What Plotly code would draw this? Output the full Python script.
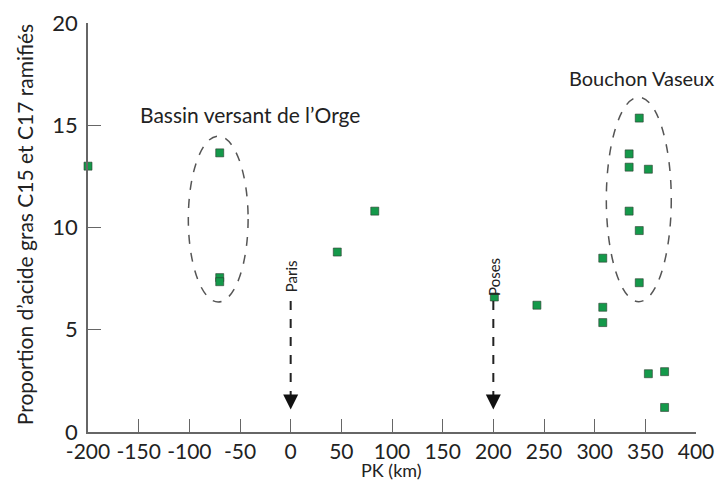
import plotly.graph_objects as go

# Data
pk_km = [-200, -70, -70, -70, 46, 83, 201, 243, 308, 308, 308,
         334, 334, 334, 344, 344, 344, 353, 353, 369, 369]
proportion = [13.0, 13.65, 7.55, 7.35, 8.8, 10.8, 6.6, 6.2, 8.5, 6.1, 5.35,
              13.6, 12.95, 10.8, 15.35, 9.85, 7.3, 12.85, 2.85, 2.95, 1.2]

x_ticks = [-200, -150, -100, -50, 0, 50, 100, 150, 200, 250, 300, 350, 400]
y_ticks = [0, 5, 10, 15, 20]

markers_pk = [0, 200]
markers_name = ["Paris", "Poses"]

FONT = "Lato"
TXT = "#222"

fig = go.Figure()
fig.add_trace(go.Scatter(
    x=pk_km, y=proportion, mode="markers",
    marker=dict(symbol="square", size=8, color="#14994a",
                line=dict(color="#2b3a2f", width=0.6)),
    cliponaxis=False, showlegend=False, hoverinfo="x+y",
))

# Dashed ellipses
fig.add_shape(type="circle", xref="x", yref="y", x0=-101, x1=-42, y0=6.36, y1=14.47,
              line=dict(color="#555", width=1.5, dash="dash"))
fig.add_shape(type="circle", xref="x", yref="y", x0=311.5, x1=375.6, y0=6.37, y1=16.37,
              line=dict(color="#555", width=1.5, dash="dash"))

fig.add_annotation(x=-40, y=15.55, xref="x", yref="y", text="Bassin versant de l’Orge",
                   showarrow=False, font=dict(family=FONT, size=21, color=TXT),
                   xanchor="center", yanchor="middle")
fig.add_annotation(x=346, y=17.3, xref="x", yref="y", text="Bouchon Vaseux",
                   showarrow=False, font=dict(family=FONT, size=20, color=TXT),
                   xanchor="center", yanchor="middle")

for pk, name in zip(markers_pk, markers_name):
    fig.add_shape(type="line", xref="x", yref="y", x0=pk, x1=pk, y0=6.4, y1=1.6,
                  line=dict(color="#222", width=2, dash="dash"))
    fig.add_annotation(x=pk, y=1.1, xref="x", yref="y", ax=0, ay=-14,
                       showarrow=True, arrowhead=2, arrowsize=1.5, arrowwidth=2,
                       arrowcolor="#111", text="")
    fig.add_annotation(x=pk, y=7.6, xref="x", yref="y", text=name, textangle=-90,
                       showarrow=False, font=dict(family=FONT, size=15, color=TXT))

# Axis titles placed as paper annotations
fig.add_annotation(x=-0.105, y=0.506, xref="paper", yref="paper", textangle=-90,
                   text="Proportion d’acide gras C15 et C17 ramifiés", showarrow=False,
                   font=dict(family=FONT, size=21, color=TXT), xanchor="center", yanchor="middle")
fig.add_annotation(x=0.499, y=-0.093, xref="paper", yref="paper", text="PK (km)",
                   showarrow=False, font=dict(family=FONT, size=18, color=TXT),
                   xanchor="center", yanchor="middle")

fig.update_xaxes(range=[-200, 400], tickvals=x_ticks, ticktext=[str(v) for v in x_ticks],
                 showgrid=False, zeroline=False, showline=True, linecolor="#666", linewidth=1.5,
                 ticks="inside", ticklen=13, tickcolor="#666", tickwidth=1.2,
                 tickfont=dict(family=FONT, size=21, color=TXT), automargin=False,
                 ticklabeloverflow="allow", ticklabelstandoff=0)
fig.update_yaxes(range=[0, 20], tickvals=y_ticks,
                 showgrid=False, zeroline=False, showline=True, linecolor="#666", linewidth=1.5,
                 ticks="inside", ticklen=13, tickcolor="#666", tickwidth=1.2,
                 tickfont=dict(family=FONT, size=22, color=TXT), automargin=False,
                 ticklabeloverflow="allow", ticklabelstandoff=4)

# The page adds an 8px body margin on every side, so the figure is sized to
# fit exactly inside the 723x490 window without scrollbars.
fig.update_layout(width=707, height=474, plot_bgcolor="white", paper_bgcolor="white",
                  margin=dict(l=80, r=19, t=15, b=50), showlegend=False)

fig.write_html("out.html")
